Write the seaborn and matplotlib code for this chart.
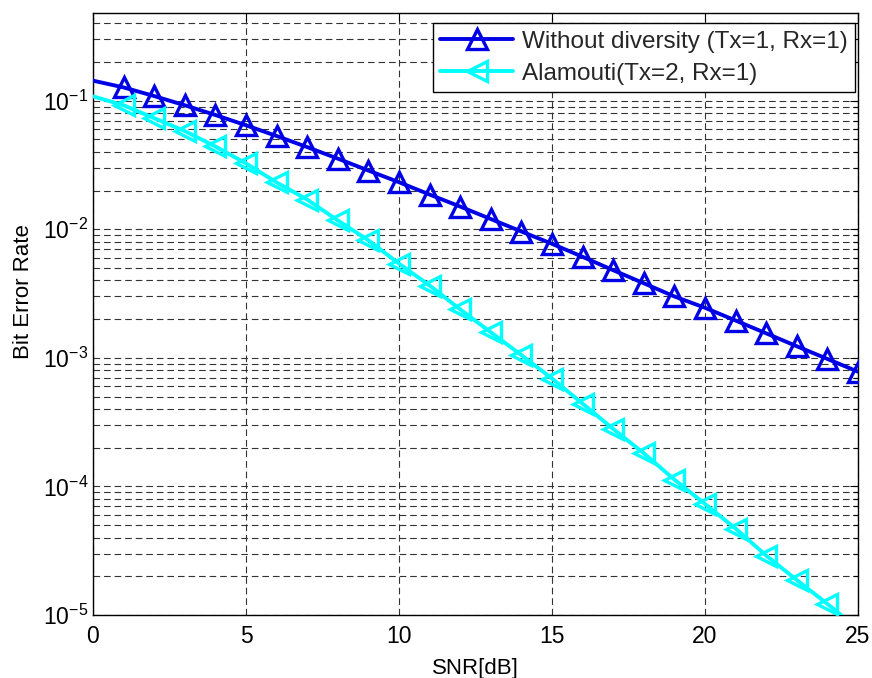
import numpy as np
import pandas as pd
import matplotlib
matplotlib.use("Agg")
import matplotlib.pyplot as plt
import seaborn as sns
from matplotlib.ticker import LogLocator, NullFormatter

# ---- data ----
snr_db = list(range(0, 26))
ber_no_div = [0.143, 0.1267, 0.1085, 0.0920, 0.0773, 0.0643, 0.0531, 0.0435,
              0.0354, 0.0286, 0.0232, 0.0186, 0.0150, 0.0120, 0.0096, 0.0077,
              0.0061, 0.0048, 0.0038, 0.0030, 0.00245, 0.00195, 0.00155,
              0.00123, 0.00098, 0.00078]
ber_alamouti = [0.108, 0.092, 0.073, 0.058, 0.044, 0.0325, 0.0231, 0.0170,
                0.0117, 0.0082, 0.0054, 0.00365, 0.00238, 0.00158, 0.00105,
                0.00069, 0.00044, 0.00028, 0.000181, 0.000113, 7.3e-5, 4.7e-5,
                2.9e-5, 1.87e-5, 1.22e-5, 7.8e-6]
labels = ["Without diversity (Tx=1, Rx=1)", "Alamouti(Tx=2, Rx=1)"]
x_ticks = [0, 5, 10, 15, 20, 25]

df1 = pd.DataFrame({"SNR": snr_db, "BER": ber_no_div})
df2 = pd.DataFrame({"SNR": snr_db, "BER": ber_alamouti})

sns.set_theme(style="white")
plt.rcParams["font.family"] = ["Liberation Sans", "DejaVu Sans"]
plt.rcParams["mathtext.fontset"] = "custom"
plt.rcParams["mathtext.rm"] = "Liberation Sans"
plt.rcParams["mathtext.it"] = "Liberation Sans:italic"
plt.rcParams["mathtext.bf"] = "Liberation Sans:bold"

fig = plt.figure(figsize=(8.72, 6.78), dpi=100)
fig.patch.set_facecolor("white")
ax = fig.add_axes([0.10665, 0.0929, 0.8773, 0.8879])
ax.set_facecolor("white")

sns.lineplot(data=df1, x="SNR", y="BER", ax=ax, color="#0000E6", lw=2.8,
             marker="^", markersize=14, markerfacecolor="none",
             markeredgecolor="#0000E6", markeredgewidth=2.4,
             markevery=slice(1, None), label=labels[0], zorder=3)
sns.lineplot(data=df2, x="SNR", y="BER", ax=ax, color="#00FFFF", lw=2.8,
             marker="<", markersize=14, markerfacecolor="none",
             markeredgecolor="#00FFFF", markeredgewidth=2.4,
             markevery=slice(1, None), label=labels[1], zorder=3)

ax.set_yscale("log")
ax.set_xlim(0, 25)
ax.set_ylim(1e-5, 0.48)
ax.set_xticks(x_ticks)
ax.set_xticklabels([str(t) for t in x_ticks])
ax.yaxis.set_major_locator(LogLocator(base=10, numticks=10))
ax.yaxis.set_minor_locator(LogLocator(base=10, subs=np.arange(2, 10), numticks=20))
ax.yaxis.set_minor_formatter(NullFormatter())

ax.grid(True, which="major", axis="both", color="#333333", lw=0.8,
        linestyle=(0, (6, 3.5)))
ax.grid(True, which="minor", axis="y", color="#333333", lw=0.8,
        linestyle=(0, (6, 3.5)))
ax.set_axisbelow(True)

for s in ax.spines.values():
    s.set_visible(True)
    s.set_color("black")
    s.set_linewidth(1.0)

ax.tick_params(axis="both", which="both", direction="in", top=True, right=True,
               colors="black", labelsize=16.5)
ax.tick_params(axis="both", which="major", length=6, width=0.8)
ax.tick_params(axis="x", which="major", pad=7)
ax.tick_params(axis="y", which="major", pad=3.5)
ax.tick_params(axis="y", which="minor", length=3.5, width=0.8)

ax.set_xlabel("SNR[dB]", fontsize=16, color="black")
ax.set_ylabel("Bit Error Rate", fontsize=16, color="black")
ax.xaxis.set_label_coords(0.5, -0.072)
ax.yaxis.set_label_coords(-0.077, 0.537)

leg = ax.legend(loc="upper right", bbox_to_anchor=(0.996, 0.983), fontsize=17.5,
                frameon=True, fancybox=False, shadow=False, framealpha=1,
                edgecolor="black", handlelength=3.0, handletextpad=0.35,
                borderpad=0.3, labelspacing=0.42, borderaxespad=0)
leg.get_frame().set_linewidth(1.0)

fig.savefig("out.png", dpi=100, facecolor="white")
